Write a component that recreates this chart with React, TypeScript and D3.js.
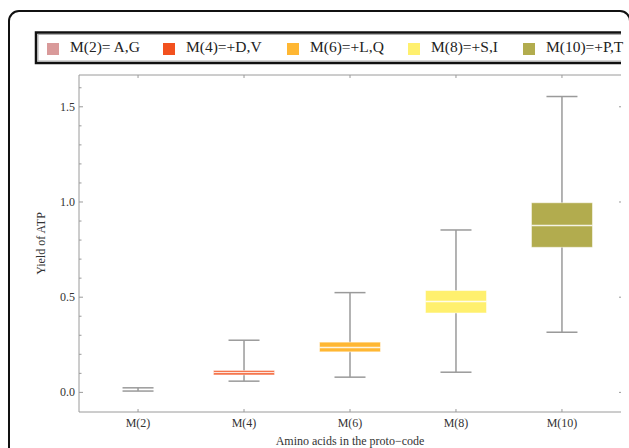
import React from "react";
import * as d3 from "d3";

const categories = ["M(2)", "M(4)", "M(6)", "M(8)", "M(10)"];
const legendLabels = ["M(2)= A,G", "M(4)=+D,V", "M(6)=+L,Q", "M(8)=+S,I", "M(10)=+P,T"];
const colors = ["#d99a9a", "#f2511e", "#ffb733", "#fff06e", "#b2ac4e"];
const mins = [0.007, 0.059, 0.08, 0.106, 0.316];
const q1s = [0.015, 0.092, 0.213, 0.417, 0.762];
const medians = [0.015, 0.105, 0.236, 0.477, 0.877];
const q3s = [0.015, 0.115, 0.264, 0.535, 0.996];
const maxs = [0.024, 0.274, 0.524, 0.853, 1.554];
const yMajorTicks = [0, 0.5, 1.0, 1.5];
const legendX = [47, 163, 287, 408, 523];

const W = 629;
const H = 448;
const left = 79;
const right = 621;
const top = 75;
const bottom = 412;

export default function App() {
  const x = d3.scalePoint<string>().domain(categories).range([left, right]).padding(0.557);
  const y = d3.scaleLinear().domain([-0.103, 1.667]).range([bottom, top]);
  const minor = d3.range(0, 1.66, 0.1).map((v) => Math.round(v * 10) / 10);
  const boxW = 61;
  const capW = 31;
  const axisColor = "#9a9a9a";
  const font = "'Liberation Serif', 'Times New Roman', serif";
  return (
    <svg width={W} height={H} style={{ position: "absolute", left: 0, top: 0, background: "#fff" }}>
      <rect x={9} y={11} width={621} height={470} rx={10} ry={10} fill="none" stroke="#111" strokeWidth={2} />
      {/* legend */}
      <path d="M621,32.5H36V63H621" fill="none" stroke="#111" strokeWidth={2.5} />
      <path d="M621,34.5H38V61H621" fill="none" stroke="#999" strokeWidth={0.8} />
      {legendLabels.map((l, i) => (
        <g key={l}>
          <rect x={legendX[i]} y={43} width={12} height={12} fill={colors[i]} />
          <text x={legendX[i] + 23} y={52} fontFamily={font} fontSize={15.5} fill="#222">
            {l}
          </text>
        </g>
      ))}
      {/* frame */}
      <path d={`M${right},${top}H${left}V${bottom}H${right}`} fill="none" stroke={axisColor} strokeWidth={1} />
      {minor.map((v) => {
        const major = yMajorTicks.some((m) => Math.abs(m - v) < 1e-6);
        return (
          <line key={"yt" + v} x1={left} x2={left + (major ? 4 : 2.5)} y1={y(v)} y2={y(v)} stroke={axisColor} />
        );
      })}
      {yMajorTicks.map((v) => (
        <g key={"ym" + v}>
          <text x={left - 4} y={y(v) + 4} textAnchor="end" fontFamily={font} fontSize={12} fill="#333">
            {v.toFixed(1)}
          </text>
          <line x1={right} x2={right - 2} y1={y(v)} y2={y(v)} stroke={axisColor} />
        </g>
      ))}
      {categories.map((c) => (
        <g key={"xt" + c}>
          <line x1={x(c)} x2={x(c)} y1={bottom} y2={bottom - 3} stroke={axisColor} />
          <line x1={x(c)} x2={x(c)} y1={top} y2={top + 3} stroke={axisColor} />
          <text x={x(c)} y={bottom + 15} textAnchor="middle" fontFamily={font} fontSize={12} fill="#333">
            {c}
          </text>
        </g>
      ))}
      <text
        transform={`translate(45,${(top + bottom) / 2}) rotate(-90)`}
        textAnchor="middle"
        fontFamily={font}
        fontSize={12}
        fill="#333"
      >
        Yield of ATP
      </text>
      <text x={(left + right) / 2} y={445} textAnchor="middle" fontFamily={font} fontSize={12} fill="#333">
        Amino acids in the proto−code
      </text>
      {/* boxes */}
      {categories.map((c, i) => {
        const cx = x(c)!;
        const h = y(q1s[i]) - y(q3s[i]);
        return (
          <g key={"b" + c}>
            <line x1={cx} x2={cx} y1={y(mins[i])} y2={y(maxs[i])} stroke={axisColor} strokeWidth={1.5} />
            <line x1={cx - capW / 2} x2={cx + capW / 2} y1={y(mins[i])} y2={y(mins[i])} stroke={axisColor} strokeWidth={1.5} />
            <line x1={cx - capW / 2} x2={cx + capW / 2} y1={y(maxs[i])} y2={y(maxs[i])} stroke={axisColor} strokeWidth={1.5} />
            {h > 0.5 && (
              <>
                <rect x={cx - boxW / 2} y={y(q3s[i])} width={boxW} height={h} fill={colors[i]} stroke="#fff" strokeOpacity={0.5} strokeWidth={1} />
                <line x1={cx - boxW / 2} x2={cx + boxW / 2} y1={y(medians[i])} y2={y(medians[i])} stroke="#fff" strokeOpacity={0.85} strokeWidth={1.5} />
              </>
            )}
          </g>
        );
      })}
    </svg>
  );
}
